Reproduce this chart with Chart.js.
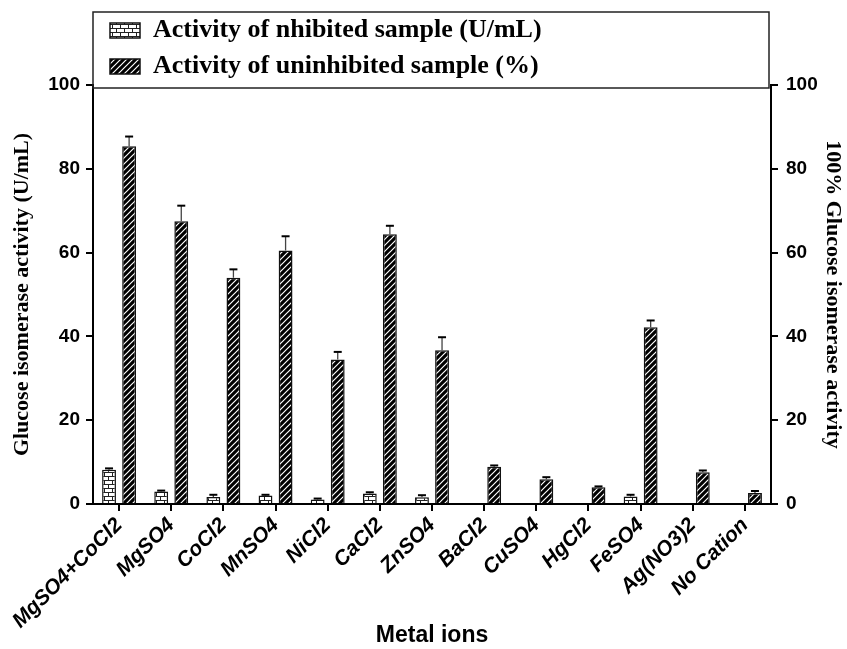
<!DOCTYPE html>
<html><head><meta charset="utf-8">
<script src="https://cdn.jsdelivr.net/npm/chart.js@4/dist/chart.umd.min.js"></script>
<style>html,body{margin:0;padding:0;background:#fff;}</style>
</head><body>
<canvas id="c" width="847" height="649" style="display:block;width:847px;height:649px"></canvas>
<script>
const categories = ['MgSO4+CoCl2','MgSO4','CoCl2','MnSO4','NiCl2','CaCl2','ZnSO4','BaCl2','CuSO4','HgCl2','FeSO4','Ag(NO3)2','No Cation'];
const inhibited = [8.2, 3.0, 1.7, 2.0, 1.1, 2.5, 1.6, null, null, null, 1.8, null, null];
const inhibitedErr = [0.3, 0.2, 0.5, 0.2, 0.2, 0.3, 0.5, null, null, null, 0.4, null, null];
const uninhibited = [85.4, 67.5, 54.0, 60.5, 34.5, 64.4, 36.7, 8.9, 5.9, 4.0, 42.2, 7.6, 2.6];
const uninhibitedErr = [2.3, 3.7, 2.0, 3.4, 1.8, 2.0, 3.1, 0.3, 0.5, 0.2, 1.6, 0.4, 0.5];
const yTicks = [0, 20, 40, 60, 80, 100];
const seriesNames = ['Activity of nhibited sample (U/mL)', 'Activity of uninhibited sample (%)'];

const canvas = document.getElementById('c');
const ctx = canvas.getContext('2d');

function brickPattern() {
  const c = document.createElement('canvas'); c.width = 8; c.height = 8;
  const g = c.getContext('2d');
  g.fillStyle = '#fff'; g.fillRect(0, 0, 8, 8);
  g.fillStyle = '#222';
  g.fillRect(0, 0, 8, 1); g.fillRect(0, 4, 8, 1);
  g.fillRect(0, 0, 1, 4); g.fillRect(4, 4, 1, 4);
  return ctx.createPattern(c, 'repeat');
}
function hatchPattern() {
  const c = document.createElement('canvas'); c.width = 6; c.height = 6;
  const g = c.getContext('2d');
  g.fillStyle = '#000'; g.fillRect(0, 0, 6, 6);
  g.strokeStyle = '#fff'; g.lineWidth = 1.2;
  g.beginPath();
  g.moveTo(0, 6); g.lineTo(6, 0);
  g.moveTo(-3, 3); g.lineTo(3, -3);
  g.moveTo(3, 9); g.lineTo(9, 3);
  g.stroke();
  return ctx.createPattern(c, 'repeat');
}

const errs = [inhibitedErr, uninhibitedErr];

const errorBars = {
  id: 'errorBars',
  afterDatasetsDraw(chart) {
    const c = chart.ctx;
    chart.data.datasets.forEach((ds, i) => {
      const meta = chart.getDatasetMeta(i);
      const ys = chart.scales[meta.yAxisID];
      meta.data.forEach((bar, j) => {
        const v = ds.data[j], e = errs[i][j];
        if (v == null || e == null) return;
        const yTop = ys.getPixelForValue(v + e);
        c.save();
        c.strokeStyle = '#444'; c.lineWidth = 1.3;
        c.beginPath(); c.moveTo(bar.x, bar.y); c.lineTo(bar.x, yTop); c.stroke();
        c.strokeStyle = '#000'; c.lineWidth = 2;
        c.beginPath(); c.moveTo(bar.x - 4, yTop); c.lineTo(bar.x + 4, yTop); c.stroke();
        c.restore();
      });
    });
  }
};

const legendFrame = {
  id: 'legendFrame',
  afterLayout(chart) {
    if (chart.legend) chart.legend.left = chart.chartArea.left + 7;
  },
  afterDraw(chart) {
    const ca = chart.chartArea, c = chart.ctx;
    c.save();
    c.strokeStyle = '#222'; c.lineWidth = 1.5;
    c.strokeRect(ca.left, 12, ca.right - 2 - ca.left, ca.top + 3 - 12);
    c.restore();
  }
};

const tickFont = {family: '"Liberation Sans", Arial, sans-serif', weight: 'bold', size: 19};
const serifTitle = {family: '"Liberation Serif", "Times New Roman", serif', weight: 'bold', size: 22, lineHeight: 1.2};

new Chart(ctx, {
  type: 'bar',
  data: {
    labels: categories,
    datasets: [
      {label: seriesNames[0], data: inhibited, backgroundColor: brickPattern(), borderColor: '#111', borderWidth: 1.5, yAxisID: 'y'},
      {label: seriesNames[1], data: uninhibited, backgroundColor: hatchPattern(), borderColor: '#111', borderWidth: 1.5, yAxisID: 'y'}
    ]
  },
  options: {
    responsive: false,
    animation: false,
    devicePixelRatio: 1,
    datasets: {bar: {categoryPercentage: 0.77, barPercentage: 0.69}},
    layout: {padding: {top: 7.5, left: 0, right: 1, bottom: 0}},
    plugins: {
      legend: {
        position: 'top', align: 'start', maxHeight: 77.5,
        labels: {boxWidth: 30, boxHeight: 15, padding: 10, color: '#000',
          font: {family: '"Liberation Serif", "Times New Roman", serif', weight: 'bold', size: 26}}
      },
      tooltip: {enabled: false}
    },
    scales: {
      x: {
        offset: true,
        afterFit: s => { s.height = 145; },
        grid: {offset: false, display: true, drawOnChartArea: false, tickLength: 7, color: '#000', lineWidth: 2},
        border: {color: '#000', width: 2},
        ticks: {autoSkip: false, maxRotation: 45, minRotation: 45, color: '#000', padding: 2,
          font: {family: '"Liberation Sans", Arial, sans-serif', weight: 'bold', style: 'italic', size: 21}},
        title: {display: true, text: 'Metal ions', color: '#000', padding: {top: 0, bottom: 0},
          font: {family: '"Liberation Sans", Arial, sans-serif', weight: 'bold', size: 23, lineHeight: 1.2}}
      },
      y: {
        position: 'left', min: 0, max: 100,
        afterFit: s => { s.width = 93; },
        afterBuildTicks: s => { s.ticks = yTicks.map(v => ({value: v})); },
        grid: {display: true, drawOnChartArea: false, tickLength: 7, color: '#000', lineWidth: 2},
        border: {color: '#000', width: 2},
        ticks: {color: '#000', padding: 6, font: tickFont},
        title: {display: true, text: 'Glucose isomerase activity (U/mL)', color: '#000', padding: {top: 9, bottom: 4}, font: serifTitle}
      },
      y2: {
        position: 'right', min: 0, max: 100,
        afterFit: s => { s.width = 75; },
        afterBuildTicks: s => { s.ticks = yTicks.map(v => ({value: v})); },
        grid: {display: true, drawOnChartArea: false, tickLength: 7, color: '#000', lineWidth: 2},
        border: {color: '#000', width: 2},
        ticks: {color: '#000', padding: 8, font: tickFont},
        title: {display: true, text: '100% Glucose isomerase activity', color: '#000', padding: {top: 0, bottom: 3}, font: serifTitle}
      }
    }
  },
  plugins: [errorBars, legendFrame]
});
</script>
</body></html>
